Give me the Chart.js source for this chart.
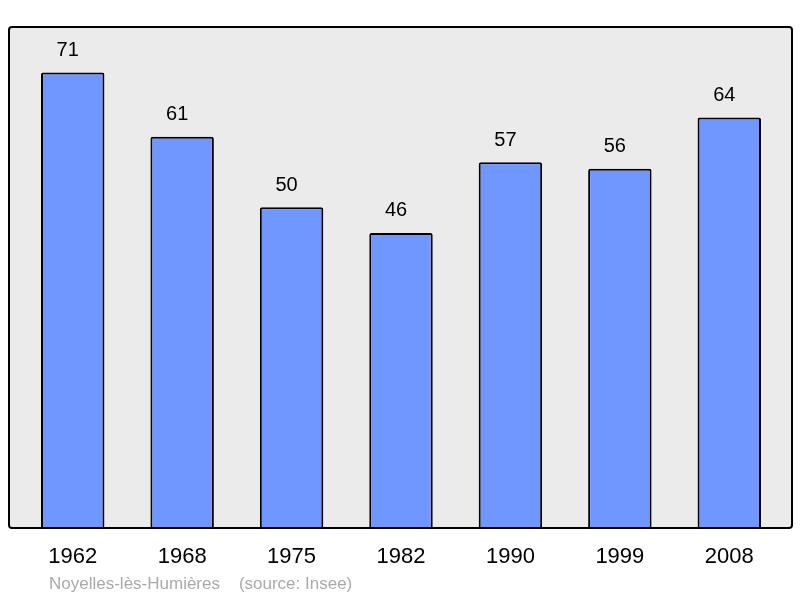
<!DOCTYPE html>
<html>
<head>
<meta charset="utf-8">
<script src="https://cdn.jsdelivr.net/npm/chart.js@4"></script>
<style>
  html,body{margin:0;padding:0;background:#fff;}
  #wrap{width:800px;height:598px;}
</style>
</head>
<body>
<div id="wrap"><canvas id="c"></canvas></div>
<script>
// population per census year
const years = ["1962","1968","1975","1982","1990","1999","2008"];
const population = [71,61,50,46,57,56,64];
const caption = "Noyelles-lès-Humières    (source: Insee)";

const FONT = "'Liberation Sans', Arial, sans-serif";

// grey frame behind the bars
const framePlugin = {
  id: "frame",
  beforeDatasetsDraw(chart){
    const a = chart.chartArea, ctx = chart.ctx;
    const x0 = a.left - 9, x1 = a.right + 8;
    ctx.save();
    ctx.beginPath();
    ctx.roundRect(x0, a.top, x1 - x0, a.bottom - a.top, 3);
    ctx.fillStyle = "#ebebeb";
    ctx.fill();
    ctx.restore();
  },
  afterDatasetsDraw(chart){
    const a = chart.chartArea, ctx = chart.ctx;
    const x0 = a.left - 9, x1 = a.right + 8;
    ctx.save();
    ctx.beginPath();
    ctx.roundRect(x0, a.top, x1 - x0, a.bottom - a.top, 3);
    ctx.lineWidth = 2;
    ctx.strokeStyle = "#000";
    ctx.stroke();
    // values above bars (slightly left of centre, as in the original)
    ctx.fillStyle = "#000";
    ctx.font = "20px " + FONT;
    ctx.textAlign = "center";
    ctx.textBaseline = "middle";
    chart.getDatasetMeta(0).data.forEach((bar, i) => {
      ctx.fillText(String(population[i]), bar.x - 5, bar.y - 22);
    });
    // caption
    ctx.fillStyle = "#aaaaaa";
    ctx.font = "17px " + FONT;
    ctx.textAlign = "left";
    ctx.fillText(caption, 49, 584);
    ctx.restore();
  }
};

new Chart(document.getElementById("c"), {
  type: "bar",
  data: {
    labels: years,
    datasets: [{
      data: population,
      backgroundColor: "#7096ff",
      borderColor: "#000",
      borderWidth: 2,
      borderRadius: 2,
      borderSkipped: "bottom",
      categoryPercentage: 1,
      barPercentage: 0.58
    }]
  },
  options: {
    responsive: true,
    maintainAspectRatio: false,
    animation: false,
    layout: { padding: { left: 18, right: 16, top: 27, bottom: 0 } },
    plugins: { legend: { display: false }, tooltip: { enabled: false } },
    scales: {
      x: {
        grid: { display: false },
        border: { display: false },
        ticks: { color: "#000", font: { size: 22, family: FONT }, padding: 8, maxRotation: 0 },
        afterFit(scale){ scale.height = 70; }
      },
      y: {
        display: false,
        min: 0,
        max: 78.1
      }
    }
  },
  plugins: [framePlugin]
});
</script>
</body>
</html>
